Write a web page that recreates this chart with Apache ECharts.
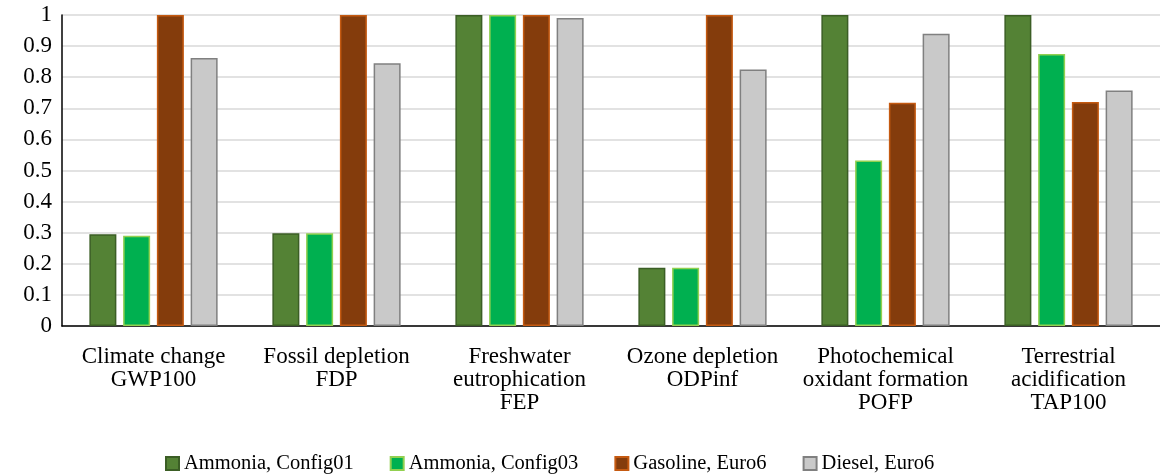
<!DOCTYPE html>
<html>
<head>
<meta charset="utf-8">
<script src="https://cdn.jsdelivr.net/npm/echarts@6/dist/echarts.min.js"></script>
<style>
  html, body { margin: 0; padding: 0; background: #fff; }
  #main { width: 1160px; height: 474px; }
</style>
</head>
<body>
<div id="main"></div>
<script>
  // categories
  var categories = [
    'Climate change\nGWP100',
    'Fossil depletion\nFDP',
    'Freshwater\neutrophication\nFEP',
    'Ozone depletion\nODPinf',
    'Photochemical\noxidant formation\nPOFP',
    'Terrestrial\nacidification\nTAP100'
  ]
  // series values
  var ammoniaConfig01 = [0.295, 0.298, 1, 0.187, 1, 1]
  var ammoniaConfig03 = [0.29, 0.298, 1, 0.187, 0.532, 0.875]
  var gasolineEuro6 = [1, 1, 1, 1, 0.718, 0.72]
  var dieselEuro6 = [0.862, 0.845, 0.99, 0.825, 0.94, 0.757]

  var font = 'Liberation Serif, Times New Roman, serif'

  function bar(name, data, fill, border) {
    return {
      name: name,
      type: 'bar',
      data: data,
      barWidth: 27,
      barGap: '25%',
      itemStyle: { color: fill, borderColor: border, borderWidth: 1.5 }
    }
  }

  var myChart = echarts.init(document.getElementById('main'))
  var option = {
    animation: false,
    textStyle: { fontFamily: font },
    grid: { left: 62, right: 0, top: 15, bottom: 148, containLabel: false },
    legend: {
      top: 448,
      left: 160,
      itemWidth: 13,
      itemHeight: 13,
      itemGap: 36,
      icon: 'rect',
      textStyle: { fontFamily: font, fontSize: 20.5, color: '#000' },
      data: ['Ammonia, Config01', 'Ammonia, Config03', 'Gasoline, Euro6', 'Diesel, Euro6']
    },
    xAxis: {
      type: 'category',
      data: categories,
      axisLine: { lineStyle: { color: '#000', width: 1.5 } },
      axisTick: { show: false },
      axisLabel: { fontFamily: font, fontSize: 23, color: '#000', lineHeight: 23, margin: 19, interval: 0 }
    },
    yAxis: {
      type: 'value',
      min: 0,
      max: 1,
      interval: 0.1,
      axisLine: { show: true, lineStyle: { color: '#000', width: 1.5 } },
      axisTick: { show: false },
      splitLine: { lineStyle: { color: '#d9d9d9', width: 1.5 } },
      axisLabel: {
        fontFamily: font, fontSize: 23, color: '#000', margin: 10,
        formatter: function (v) { return String(Math.round(v * 10) / 10) }
      }
    },
    series: [
      bar('Ammonia, Config01', ammoniaConfig01, '#548235', '#3b5e25'),
      bar('Ammonia, Config03', ammoniaConfig03, '#00b050', '#92d050'),
      bar('Gasoline, Euro6', gasolineEuro6, '#843c0c', '#c55a11'),
      bar('Diesel, Euro6', dieselEuro6, '#c9c9c9', '#808080')
    ]
  }
  myChart.setOption(option)
</script>
</body>
</html>
